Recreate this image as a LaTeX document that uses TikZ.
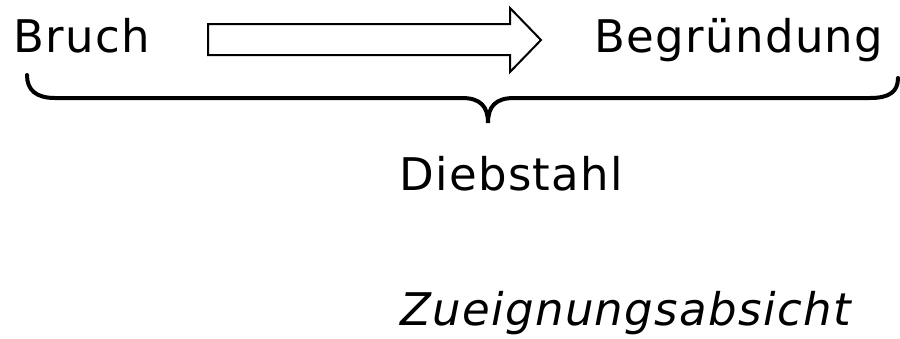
\documentclass[tikz,border=0pt]{standalone}
\usepackage{fontspec}
\setmainfont[LetterSpace=3]{DejaVu Sans}
\usetikzlibrary{positioning}

\begin{document}
\begin{tikzpicture}[x=0.5pt, y=-0.5pt,
    term/.style={anchor=base west, inner sep=0pt, font=\fontsize{22.5}{27}\selectfont},
    bracepath/.style={line width=2pt, line cap=round},
    blockarrow/.style={line width=1pt, line join=miter}]
    \useasboundingbox (0,0) rectangle (900,338);

    % Terms
    \node[term] (bruch) at (13,52) {Bruch};
    \node[term] (begr) at (594,52) {Begründung};
    \node[term] (diebstahl) at (399,190) {Diebstahl};
    \node[term] (zueignung) at (400,325) {\itshape Zueignungsabsicht};

    % Arrow
    \draw[blockarrow] (208,24) -- (510,24) -- (510,8) -- (541,40) -- (510,72) -- (510,55) -- (208,55) -- cycle;

    % Brace
    \draw[bracepath] (27,75) .. controls (27,90) and (36,98) .. (55,98) -- (462,98)
        .. controls (480,98) and (488,106) .. (488,123)
        .. controls (488,106) and (496,98) .. (514,98) -- (870,98)
        .. controls (889,98) and (898,92) .. (898,78);
\end{tikzpicture}
\end{document}
